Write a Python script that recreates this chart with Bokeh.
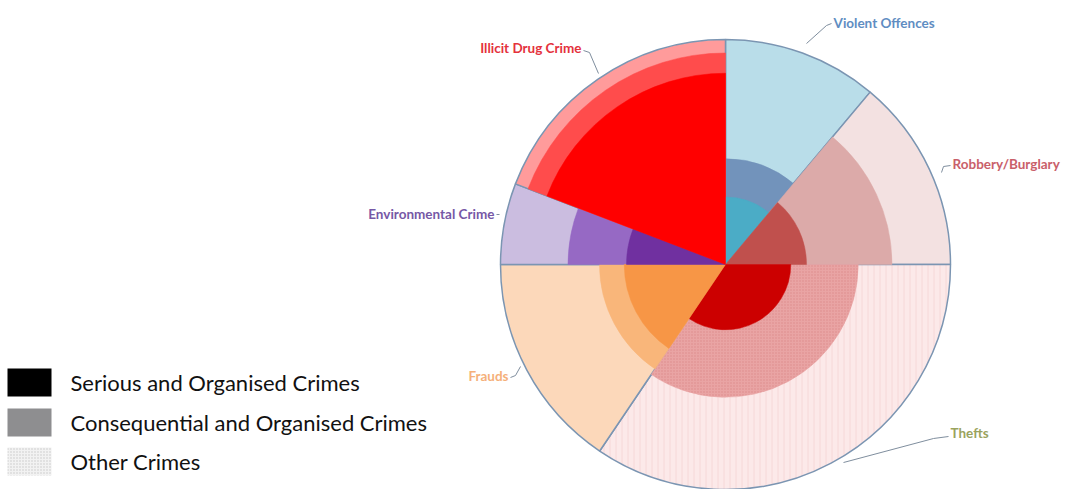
import numpy as np
from bokeh.plotting import figure
from bokeh.models import Range1d, ColumnDataSource
from bokeh.core.properties import value
from bokeh.embed import file_html
from bokeh.resources import INLINE

# ---------------- data ----------------
categories = ["Violent Offences", "Robbery/Burglary", "Thefts", "Frauds",
              "Environmental Crime", "Illicit Drug Crime"]
sector_deg = [40, 50, 124, 56, 21, 69]          # share of the circle (degrees)
serious = [30, 36, 29, 45, 44, 85]              # radius, outer ring = 100
consequential = [47, 74, 59, 56, 70, 94]
other = [100, 100, 100, 100, 100, 100]

serious_colors = ["#4bacc6", "#c0504d", "#cc0000", "#f79646", "#7030a0", "#ff0000"]
conseq_colors = ["#7293bb", "#dcaaa9", "#e9a4a4", "#f9b67a", "#9669c4", "#ff4c4c"]
other_colors = ["#b9dde9", "#f3e1e1", "#fce9e9", "#fcd8ba", "#cbbde0", "#ff9b9b"]
conseq_hatch = [" ", " ", ".", " ", " ", " "]
other_hatch = [" ", " ", "|", " ", " ", " "]
label_colors = ["#5f8dc2", "#c9606a", "#9aa35e", "#f5b07a", "#7658a6", "#e4323c"]

legend_labels = ["Serious and Organised Crimes",
                 "Consequential and Organised Crimes", "Other Crimes"]
legend_colors = ["#000000", "#8e8e90", "#f2f2f2"]

# ---------------- layout helpers ----------------
CX, CY, PX_PER_UNIT = 725, 264, 2.25
W, H = 1071, 489
OFF = 0


def d(sx, sy):
    return (sx - CX) / PX_PER_UNIT, (CY - sy) / PX_PER_UNIT


x0, y1 = d(OFF, OFF)
x1, y0 = d(OFF + W, OFF + H)

p = figure(width=W, height=H, output_backend="svg", toolbar_location=None,
           x_range=Range1d(x0, x1), y_range=Range1d(y0, y1),
           min_border=0, outline_line_color=None)
p.axis.visible = False
p.grid.visible = False
p.background_fill_color = "white"
p.border_fill_color = "white"

cum_end = np.cumsum(sector_deg)
cum_start = cum_end - np.array(sector_deg)
start = np.radians(90 - cum_end)
end = np.radians(90 - cum_start)

src = ColumnDataSource(dict(
    cat=categories, start=start, end=end,
    serious=serious, conseq=consequential, other=other,
    sc=serious_colors, cc=conseq_colors, oc=other_colors,
    ch=conseq_hatch, oh=other_hatch,
))

p.wedge(x=0, y=0, radius="other", start_angle="start", end_angle="end",
        fill_color="oc", hatch_pattern="oh", hatch_color="#f5d3d3",
        hatch_scale=6, hatch_weight=0.8, line_color="#7b95b2", line_width=1.5,
        source=src)
p.wedge(x=0, y=0, radius="conseq", start_angle="start", end_angle="end",
        fill_color="cc", line_color="cc", line_width=0.5,
        hatch_pattern="ch", hatch_color="#dc8c8c", hatch_scale=3,
        hatch_weight=0.8, source=src)
p.wedge(x=0, y=0, radius="serious", start_angle="start", end_angle="end",
        fill_color="sc", line_color="sc", line_width=0.5, source=src)

# ---------------- category labels ----------------
label_pos = [(833, 22, "left"), (952, 163, "left"), (950, 432, "left"),
             (508, 375, "right"), (494, 213, "right"), (581, 47, "right")]
leaders = [
    [(831, 23), (826, 25), (806, 43)],
    [(950, 165), (943, 166), (941, 172)],
    [(948, 436), (933, 438), (843, 462)],
    [(510, 377), (515, 375), (520, 366)],
    [(496, 214), (499, 214)],
    [(583, 50), (589, 52), (598, 73)],
]
lx, ly, la = [], [], []
for sx, sy, al in label_pos:
    a, b = d(sx, sy)
    lx.append(a); ly.append(b); la.append(al)
lab_src = ColumnDataSource(dict(x=lx, y=ly, t=categories, c=label_colors, a=la))
p.text(x="x", y="y", text="t", text_color="c", text_align="a",
       text_baseline="middle", text_font=value("Lato"), text_font_style="bold",
       text_font_size="13.5px", source=lab_src)
for pts in leaders:
    xs = [d(*q)[0] for q in pts]
    ys = [d(*q)[1] for q in pts]
    p.line(xs, ys, line_color="#7f8e9e", line_width=1)

# ---------------- legend ----------------
sw_centers = [382, 422, 461]
sw_x, _ = d(29, 0)
for i, (lab, col) in enumerate(zip(legend_labels, legend_colors)):
    _, yy = d(0, sw_centers[i])
    kw = {}
    if i == 2:
        kw = dict(hatch_pattern=".", hatch_color="#c8c8c8", hatch_scale=3)
    p.rect(x=sw_x, y=yy, width=44 / PX_PER_UNIT, height=28 / PX_PER_UNIT,
           fill_color=col, line_color=None, **kw)
    tx, _ = d(70, 0)
    p.text(x=[tx], y=[yy], text=[lab], text_color="#111111",
           text_baseline="middle", text_align="left",
           text_font=value("Lato"), text_font_size="22px")

open("out.html", "w").write(file_html(p, INLINE))
